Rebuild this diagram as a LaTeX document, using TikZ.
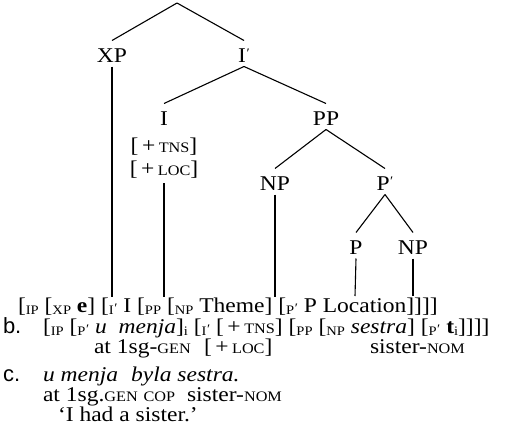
\documentclass[tikz,border=0pt]{standalone}
\usepackage{fontspec}
\setmainfont{Liberation Serif}[FakeStretch=1.12]
\newfontfamily\exlabelfont{Liberation Sans}
% bracket subscripts in small capitals
\newcommand\bsub[1]{\raisebox{-0.3ex}{\fontsize{13}{13}\selectfont #1}}
% small capitals for glosses and features
\newcommand\smcap[1]{{\fontsize{14.5}{14.5}\selectfont #1}}
\newcommand\pr{\kern0.5pt\raisebox{0.45ex}{\fontsize{13}{13}\selectfont ′}}
\tikzset{
  every node/.style={font=\fontsize{21}{22}\selectfont, inner sep=0pt, outer sep=0pt},
  cat/.style={anchor=base, text height=21.5pt, text depth=4.5pt},
  txt/.style={anchor=base west},
  exlab/.style={anchor=base west, font=\exlabelfont\fontsize{22}{23}\selectfont},
  branch/.style={line width=1.1pt}
}
\begin{document}
\begin{tikzpicture}[x=1pt,y=-1pt]
\useasboundingbox (0,0) rectangle (526,447);

% tree
\coordinate (root) at (177,3);
\node[cat] (xp) at (112,62) {XP};
\node[cat] (ibar) at (244,62) {I\pr};
\node[cat] (i) at (164,125) {I};
\node[anchor=base] (tns) at (164,152) {[\,+\,\smcap{TNS}]};
\node[anchor=base, text depth=8pt] (loc) at (164,175) {[\,+\,\smcap{LOC}]};
\node[cat] (pp) at (326,125) {PP};
\node[cat] (np) at (275,190) {NP};
\node[cat] (pbar) at (385,190) {P\pr};
\node[cat] (p) at (356,254) {P};
\node[cat] (np2) at (413,254) {NP};

\coordinate (xpfoot) at (112,297);
\coordinate (ifoot) at (164,297);
\coordinate (npfoot) at (275,297);
\coordinate (pfoot) at (355,296);
\coordinate (np2foot) at (413,296);

\draw[branch] (root) -- (xp.north);
\draw[branch] (root) -- (ibar.north);
\draw[branch] (ibar.south) -- (i.north);
\draw[branch] (ibar.south) -- (pp.north);
\draw[branch] (pp.south) -- (np.north);
\draw[branch] (pp.south) -- (pbar.north);
\draw[branch] (pbar.south) -- (p.north);
\draw[branch] (pbar.south) -- (np2.north);
\draw[branch] (xp.south) -- (xpfoot);
\draw[branch] (loc.south) -- (ifoot);
\draw[branch] (np.south) -- (npfoot);
\draw[branch] (p.south) -- (pfoot);
\draw[branch] (np2.south) -- (np2foot);

% (a) bracketing
\node[txt] (a) at (18,312) {[\bsub{IP} [\bsub{XP} \textbf{e}] [\bsub{I\pr} I [\bsub{PP} [\bsub{NP} Theme] [\bsub{P\pr} P Location]]]]};

% (b)
\node[exlab] (blab) at (3,333) {b.};
\node[txt] (b) at (43,333) {[\bsub{IP} [\bsub{P\pr} \textit{u\ \ menja}]\bsub{i} [\bsub{I\pr} [\,+\,\smcap{TNS}] [\bsub{PP} [\bsub{NP} \textit{sestra}] [\bsub{P\pr} \textbf{t}\bsub{i}]]]]};
\node[txt] (bg1) at (94,353) {at 1sg-\smcap{GEN}};
\node[txt] (bg2) at (204,353) {[\,+\,\smcap{LOC}]};
\node[txt] (bg3) at (370,353) {sister-\smcap{NOM}};

% (c)
\node[exlab] (clab) at (3,381) {c.};
\node[txt] (c1) at (43,381) {\textit{u\ menja}\hspace{13pt}\textit{byla sestra.}};
\node[txt] (cg) at (43,401) {at 1sg.\smcap{GEN} \smcap{COP}\ \ sister-\smcap{NOM}};
\node[txt] (ct) at (58,421) {‘I had a sister.’};
\end{tikzpicture}
\end{document}
